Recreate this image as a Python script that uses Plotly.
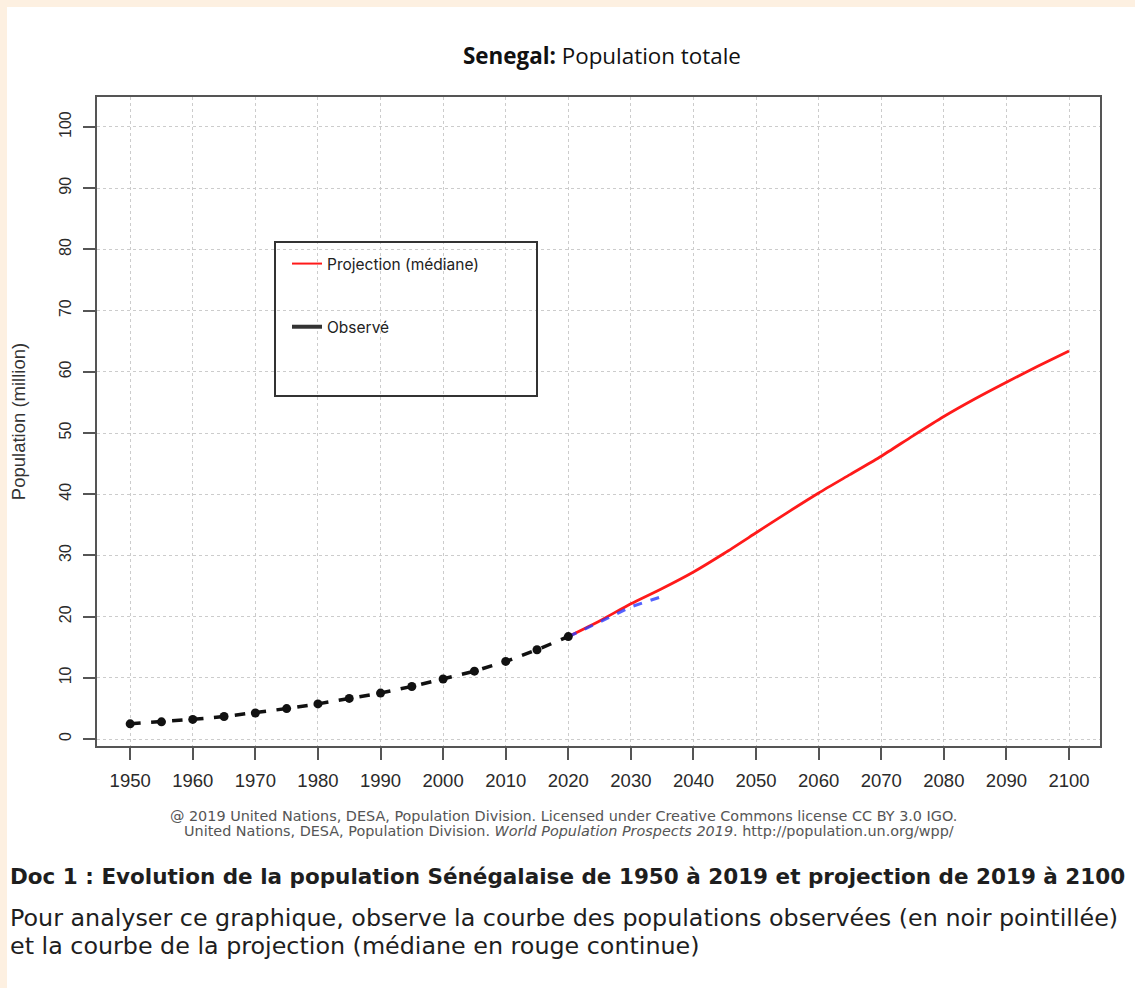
import plotly.graph_objects as go

# ---------------- data ----------------
obs_years = [1950, 1955, 1960, 1965, 1970, 1975, 1980, 1985, 1990, 1995,
             2000, 2005, 2010, 2015, 2020]
obs_pop = [2.48, 2.81, 3.21, 3.68, 4.26, 4.97, 5.74, 6.64, 7.51, 8.59,
           9.80, 11.09, 12.68, 14.58, 16.74]

proj_years = [2020, 2025, 2030, 2035, 2040, 2045, 2050, 2055, 2060, 2065,
              2070, 2075, 2080, 2085, 2090, 2095, 2100]
proj_pop = [16.74, 19.3, 22.1, 24.6, 27.3, 30.4, 33.7, 37.0, 40.2, 43.2,
            46.2, 49.5, 52.7, 55.6, 58.3, 60.9, 63.4]

blue_years = [2020, 2025, 2030, 2035]
blue_pop = [16.74, 19.1, 21.6, 23.3]

x_ticks = [1950, 1960, 1970, 1980, 1990, 2000, 2010, 2020, 2030, 2040,
           2050, 2060, 2070, 2080, 2090, 2100]
y_ticks = [0, 10, 20, 30, 40, 50, 60, 70, 80, 90, 100]

title_bold = "Senegal:"
title_rest = "Population totale"
y_title = "Population (million)"
footer1 = "@ 2019 United Nations, DESA, Population Division. Licensed under Creative Commons license CC BY 3.0 IGO."
footer2 = ("United Nations, DESA, Population Division. <i>World Population Prospects 2019</i>. "
           "http://population.un.org/wpp/")
caption1 = "Doc 1 : Evolution de la population Sénégalaise de 1950 à 2019 et projection de 2019 à 2100"
caption2 = "Pour analyser ce graphique, observe la courbe des populations observées (en noir pointillée)"
caption3 = "et la courbe de la projection (médiane en rouge continue)"
legend_names = ["Projection (médiane)", "Observé"]

# ---------------- layout geometry (pixels) ----------------
W, H = 1135, 988
PL, PR, PT, PB = 97, 1100, 97, 746


def px(xp):
    return (xp - PL) / (PR - PL)


def py(yp):
    return (PB - yp) / (PB - PT)


fig = go.Figure()

fig.add_trace(go.Scatter(x=proj_years, y=proj_pop, mode="lines",
                         line=dict(color="#ff1a1a", width=2.8, shape="spline", smoothing=0.6),
                         showlegend=False, hoverinfo="skip"))
fig.add_trace(go.Scatter(x=blue_years, y=blue_pop, mode="lines",
                         line=dict(color="#2a3cff", width=3, dash="dash"),
                         opacity=0.8, showlegend=False, hoverinfo="skip"))
fig.add_trace(go.Scatter(x=obs_years, y=obs_pop, mode="lines+markers",
                         line=dict(color="#111111", width=3.5, dash="dash"),
                         marker=dict(color="#111111", size=9, symbol="circle"),
                         showlegend=False, hoverinfo="skip"))

# legend-only entries
fig.add_trace(go.Scatter(x=[None], y=[None], mode="lines", name=legend_names[0],
                         legendgroup="a", line=dict(color="#ff1a1a", width=2)))
fig.add_trace(go.Scatter(x=[None], y=[None], mode="lines", name=legend_names[1],
                         legendgroup="b", line=dict(color="#333333", width=4)))

axis_common = dict(
    showline=True, linewidth=2, linecolor="#555555", mirror=True,
    showgrid=True, gridcolor="#cccccc", gridwidth=1, griddash="dot",
    ticks="outside", ticklen=12, tickwidth=2, tickcolor="#555555",
    zeroline=False,
)

fig.update_xaxes(range=[1944.7, 2104.95], tickmode="array", tickvals=x_ticks,
                 ticktext=[str(v) for v in x_ticks], ticklabelstandoff=5,
                 tickfont=dict(family="Liberation Sans, Arial", size=18.5, color="#2a2a2a"),
                 **axis_common)
fig.update_yaxes(range=[-1.14, 104.9], tickmode="array", tickvals=y_ticks,
                 ticktext=[str(v) for v in y_ticks], tickangle=-90, ticklabelstandoff=6,
                 tickfont=dict(family="Liberation Sans, Arial", size=16, color="#2a2a2a"),
                 title=dict(text=y_title, standoff=26,
                            font=dict(family="Liberation Sans, Arial", size=18.5, color="#333333")),
                 **axis_common)

shapes = [
    # white page panel
    dict(type="rect", xref="paper", yref="paper", layer="below",
         x0=px(7), x1=px(W + 5), y0=py(H + 5), y1=py(7),
         fillcolor="white", line=dict(width=0)),
    # legend box
    dict(type="rect", xref="paper", yref="paper", layer="above",
         x0=px(275), x1=px(537), y0=py(396), y1=py(242),
         fillcolor="rgba(0,0,0,0)", line=dict(color="#333333", width=2)),
]

annotations = [
    dict(text="<b>" + title_bold + "</b> " + title_rest, x=px(602), y=py(55),
         xref="paper", yref="paper", showarrow=False, xanchor="center", yanchor="middle",
         font=dict(family="Open Sans", size=22.4, color="#111111")),
    dict(text=footer1, x=px(563), y=py(816), xref="paper", yref="paper",
         showarrow=False, xanchor="center", yanchor="middle",
         font=dict(family="DejaVu Sans", size=14.4, color="#555555")),
    dict(text=footer2, x=px(569), y=py(831), xref="paper", yref="paper",
         showarrow=False, xanchor="center", yanchor="middle",
         font=dict(family="DejaVu Sans", size=14.4, color="#555555")),
    dict(text="<b>" + caption1 + "</b>", x=px(8), y=py(876), xref="paper", yref="paper",
         showarrow=False, xanchor="left", yanchor="middle",
         font=dict(family="DejaVu Sans", size=21.5, color="#1e1e1e")),
    dict(text=caption2, x=px(8), y=py(918), xref="paper", yref="paper",
         showarrow=False, xanchor="left", yanchor="middle",
         font=dict(family="DejaVu Sans", size=23.8, color="#1e1e1e")),
    dict(text=caption3, x=px(8), y=py(946), xref="paper", yref="paper",
         showarrow=False, xanchor="left", yanchor="middle",
         font=dict(family="DejaVu Sans", size=23.8, color="#1e1e1e")),
]

fig.update_layout(
    width=W, height=H,
    margin=dict(l=PL, r=W - PR, t=PT, b=H - PB, autoexpand=False),
    paper_bgcolor="#fdf0e1", plot_bgcolor="white",
    shapes=shapes, annotations=annotations,
    showlegend=True,
    legend=dict(x=px(287), y=py(247), xanchor="left", yanchor="top",
                bgcolor="rgba(0,0,0,0)", borderwidth=0,
                tracegroupgap=40, itemwidth=30,
                font=dict(family="Inter", size=15.5, color="#222222")),
)

fig.write_html("out.html", config={"displayModeBar": False},
               post_script="document.body.style.margin='0';"
                           "document.body.style.background='#fdf0e1';")
